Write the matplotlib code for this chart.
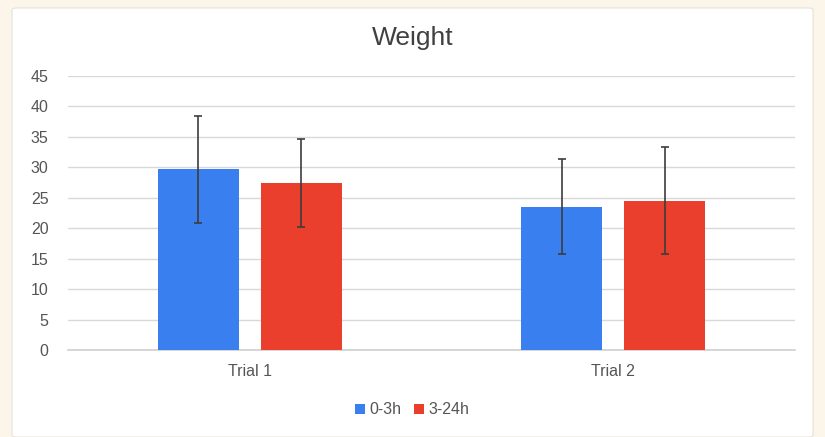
import matplotlib.pyplot as plt
from matplotlib.patches import FancyBboxPatch
import numpy as np

plt.rcParams['font.family'] = ['Liberation Sans', 'DejaVu Sans']

categories = ["Trial 1", "Trial 2"]
series = ["0-3h", "3-24h"]
means_early = [29.7, 23.5]
means_late = [27.4, 24.5]
err_early = [8.8, 7.8]
err_late = [7.2, 8.8]

fig = plt.figure(figsize=(8.25, 4.37), dpi=100)
fig.patch.set_facecolor('#fcf6ea')
# white chart card behind everything
card = FancyBboxPatch((12/825, 0), (813-12)/825, (437-8)/437,
                      boxstyle="round,pad=0,rounding_size=0.005",
                      transform=fig.transFigure, facecolor='white',
                      edgecolor='#e8e2d6', linewidth=0.8, zorder=-10)
fig.patches.append(card)

ax = fig.add_axes([68/825, 87/437, 727/825, 274/437])
ax.set_facecolor('white')

x = np.arange(len(categories))
w = 0.223
off = 0.142
ax.bar(x - off, means_early, w, color='#3a7ff0', label=series[0], zorder=2)
ax.bar(x + off, means_late, w, color='#ea3f2d', label=series[1], zorder=2)
ax.errorbar(x - off, means_early, yerr=err_early, fmt='none', ecolor='#3d3d3d',
            elinewidth=1.2, capsize=3, capthick=1.2, zorder=3)
ax.errorbar(x + off, means_late, yerr=err_late, fmt='none', ecolor='#3d3d3d',
            elinewidth=1.2, capsize=3, capthick=1.2, zorder=3)

ax.set_xlim(-0.5, 1.5)
ax.set_ylim(0, 45)
ax.set_yticks(range(0, 46, 5))
ax.set_xticks(x)
ax.set_xticklabels(categories)
ax.yaxis.grid(True, color='#d9d9d9', linewidth=1)
ax.axhline(0, color='#d0d0d0', linewidth=1.2, zorder=1, clip_on=False)
ax.set_axisbelow(True)
for s in ax.spines.values():
    s.set_visible(False)
ax.tick_params(axis='both', length=0, labelsize=11.5, colors='#555555')
ax.tick_params(axis='y', pad=14)
ax.tick_params(axis='x', pad=10)

fig.text(0.5, 1 - 38/437, "Weight", ha='center', va='center', fontsize=19, color='#404040')
fig.legend(loc='center', bbox_to_anchor=(0.5, 1 - 410/437), ncol=2, frameon=False,
           fontsize=11.5, handlelength=0.6, handleheight=0.6, handletextpad=0.3,
           columnspacing=0.8, labelcolor='#555555')

fig.savefig("out.png", dpi=100, facecolor=fig.get_facecolor())
